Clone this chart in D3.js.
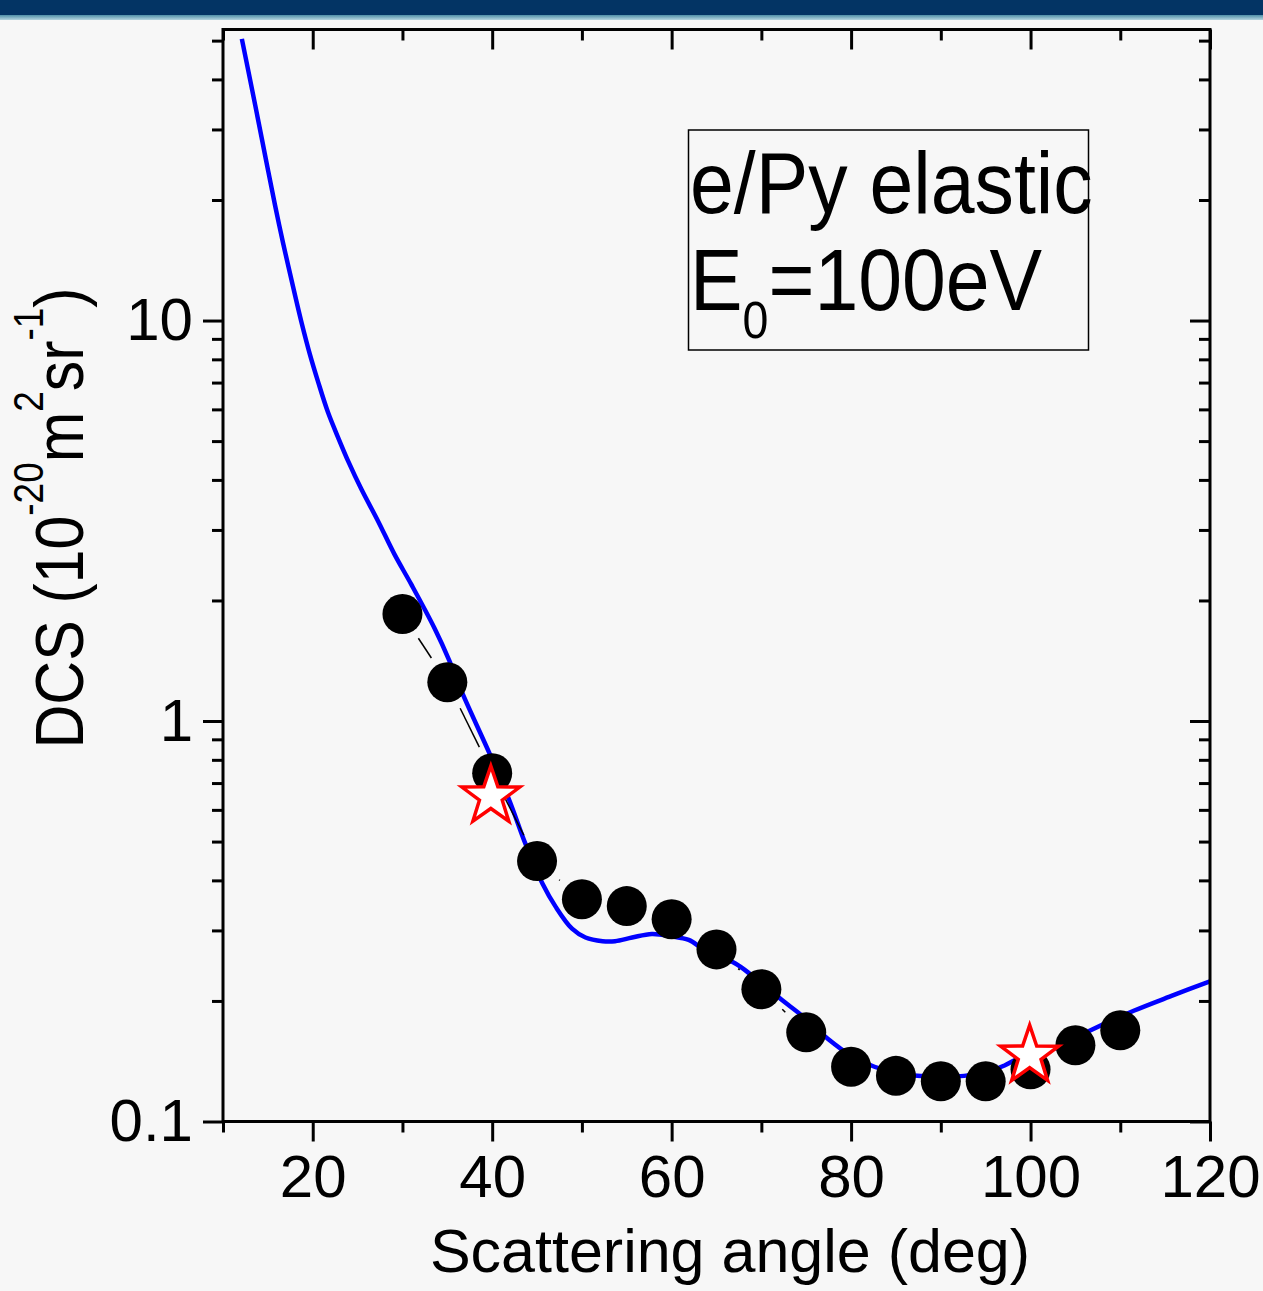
<!DOCTYPE html>
<html>
<head>
<meta charset="utf-8">
<script src="https://cdn.jsdelivr.net/npm/d3@7"></script>
<style>
html,body{margin:0;padding:0;background:#f7f7f7;}
svg{display:block;}
text{font-family:"Liberation Sans",Arial,sans-serif;fill:#000;}
</style>
</head>
<body>
<svg id="chart" width="1263" height="1291"></svg>
<script>
// ---- data ----
const theoryAngle = [12.1, 13.6, 14.7, 15.8, 16.7, 17.9, 18.8, 19.7, 20.6, 21.7, 22.9, 24.0, 25.4, 27.3, 29.1, 31.0, 33.6, 35.2, 36.7, 39.7, 41.9, 43.7, 45.6, 47.1, 48.9, 50.4, 52.3, 53.7, 55.6, 57.8, 60.0, 61.9, 63.7, 67.1, 68.9, 72.3, 74.5, 77.4, 80.0, 82.6, 85.2, 87.4, 90.0, 92.6, 95.6, 97.1, 99.3, 103.0, 106.7, 111.5, 116.0, 120.0];
const theoryDCS = [50.5, 34.4, 25.8, 19.4, 15.6, 11.9, 9.79, 8.21, 7.03, 5.90, 5.06, 4.43, 3.80, 3.15, 2.61, 2.19, 1.70, 1.42, 1.17, 0.830, 0.635, 0.494, 0.393, 0.343, 0.303, 0.288, 0.282, 0.282, 0.288, 0.294, 0.290, 0.284, 0.268, 0.248, 0.232, 0.201, 0.184, 0.161, 0.146, 0.137, 0.132, 0.130, 0.130, 0.130, 0.134, 0.138, 0.146, 0.153, 0.169, 0.189, 0.207, 0.224];

const exptAngle = [30, 35, 40, 45, 50, 55, 60, 65, 70, 75, 80, 85, 90, 95, 100, 105, 110];
const exptDCS = [1.85, 1.25, 0.741, 0.447, 0.359, 0.345, 0.320, 0.269, 0.214, 0.167, 0.137, 0.130, 0.126, 0.126, 0.135, 0.155, 0.169];

const starAngle = [39.85, 99.9];
const starDCS = [0.648, 0.146];

const xMajorTicks = [20, 40, 60, 80, 100, 120];
const xMinorTicks = [10, 30, 50, 70, 90, 110];
const yMajorTicks = [0.1, 1, 10];
const yMinorTicks = [0.2,0.3,0.4,0.5,0.6,0.7,0.8,0.9,2,3,4,5,6,7,8,9,20,30,40,50];

// ---- layout ----
const W = 1263, H = 1291;
const L = 223, R = 1210, T = 29.5, B = 1121.5;
const svg = d3.select("#chart");

svg.append("rect").attr("width", W).attr("height", H).attr("fill", "#f7f7f7");
// header band
const defs = svg.append("defs");
const grad = defs.append("linearGradient").attr("id", "hg").attr("x1", 0).attr("x2", 0).attr("y1", 0).attr("y2", 1);
grad.append("stop").attr("offset", "0").attr("stop-color", "#4f8fa8");
grad.append("stop").attr("offset", "1").attr("stop-color", "#b5d6e0");
svg.append("rect").attr("x", 0).attr("y", 0).attr("width", W).attr("height", 15).attr("fill", "#033464");
svg.append("rect").attr("x", 0).attr("y", 15).attr("width", W).attr("height", 5).attr("fill", "url(#hg)");

const x = d3.scaleLinear().domain([10, 120]).range([L, R]);
const y = d3.scaleLog().domain([0.1, 53.3]).range([B, T]);

// ---- theory curve ----
const theory = theoryAngle.map((a, i) => [a, theoryDCS[i]]);
const clip = defs.append("clipPath").attr("id", "pc");
clip.append("rect").attr("x", L).attr("y", T).attr("width", R - L).attr("height", B - T);

svg.append("path")
  .datum(theory)
  .attr("clip-path", "url(#pc)")
  .attr("fill", "none")
  .attr("stroke", "#0000ff")
  .attr("stroke-width", 4.5)
  .attr("stroke-linejoin", "round")
  .attr("d", d3.line().x(d => x(d[0])).y(d => y(d[1])).curve(d3.curveCatmullRom.alpha(0.5)));

// ---- thin connecting line with gaps at symbols ----
const expt = exptAngle.map((a, i) => [a, exptDCS[i]]);
const gap = 29;
for (let i = 0; i < expt.length - 1; i++) {
  const x1 = x(expt[i][0]), y1 = y(expt[i][1]);
  const x2 = x(expt[i + 1][0]), y2 = y(expt[i + 1][1]);
  const len = Math.hypot(x2 - x1, y2 - y1);
  if (len <= 2 * gap) continue;
  const ux = (x2 - x1) / len, uy = (y2 - y1) / len;
  svg.append("line")
    .attr("x1", x1 + ux * gap).attr("y1", y1 + uy * gap)
    .attr("x2", x2 - ux * gap).attr("y2", y2 - uy * gap)
    .attr("stroke", "#000").attr("stroke-width", 1.5);
}

// ---- experimental circles ----
svg.append("g").selectAll("circle").data(expt).join("circle")
  .attr("cx", d => x(d[0])).attr("cy", d => y(d[1])).attr("r", 20)
  .attr("fill", "#000");

// ---- stars ----
function starPath(R0, r0) {
  const pts = [];
  for (let k = 0; k < 10; k++) {
    const ang = -Math.PI / 2 + k * Math.PI / 5;
    const rr = k % 2 === 0 ? R0 : r0;
    pts.push([rr * Math.cos(ang), rr * Math.sin(ang)]);
  }
  return "M" + pts.map(p => p[0].toFixed(2) + "," + p[1].toFixed(2)).join("L") + "Z";
}
const stars = starAngle.map((a, i) => [a, starDCS[i]]);
svg.append("g").selectAll("path").data(stars).join("path")
  .attr("transform", d => `translate(${x(d[0])},${y(d[1])})`)
  .attr("d", starPath(30.5, 12))
  .attr("fill", "#fff").attr("stroke", "#ff0000").attr("stroke-width", 3.5)
  .attr("stroke-linejoin", "miter");

// ---- frame ----
svg.append("rect").attr("x", L).attr("y", T).attr("width", R - L).attr("height", B - T)
  .attr("fill", "none").attr("stroke", "#000").attr("stroke-width", 3);

// ---- axes ----
function styleAxis(g) {
  g.select(".domain").remove();
  g.selectAll(".tick line").attr("stroke", "#000").attr("stroke-width", 3);
  g.selectAll(".tick text").attr("font-size", 60).attr("font-family", '"Liberation Sans",Arial,sans-serif').attr("fill", "#000");
}
svg.append("g").attr("transform", `translate(0,${B})`)
  .call(d3.axisBottom(x).tickValues(xMajorTicks).tickSize(20).tickPadding(13).tickFormat(d3.format("d")))
  .call(styleAxis);
svg.append("g").attr("transform", `translate(0,${B})`)
  .call(d3.axisBottom(x).tickValues(xMinorTicks).tickSize(11).tickFormat(""))
  .call(styleAxis);
svg.append("g").attr("transform", `translate(0,${T})`)
  .call(d3.axisTop(x).tickValues(xMajorTicks).tickSize(-20).tickFormat(""))
  .call(styleAxis);
svg.append("g").attr("transform", `translate(0,${T})`)
  .call(d3.axisTop(x).tickValues(xMinorTicks).tickSize(-11).tickFormat(""))
  .call(styleAxis);

svg.append("g").attr("transform", `translate(${L},0)`)
  .call(d3.axisLeft(y).tickValues(yMajorTicks).tickSize(20).tickPadding(10).tickFormat(d => d < 1 ? "0.1" : d3.format("d")(d)))
  .call(styleAxis);
svg.append("g").attr("transform", `translate(${L},0)`)
  .call(d3.axisLeft(y).tickValues(yMinorTicks).tickSize(11).tickFormat(""))
  .call(styleAxis);
svg.append("g").attr("transform", `translate(${R},0)`)
  .call(d3.axisRight(y).tickValues(yMajorTicks).tickSize(-20).tickFormat(""))
  .call(styleAxis);
svg.append("g").attr("transform", `translate(${R},0)`)
  .call(d3.axisRight(y).tickValues(yMinorTicks).tickSize(-11).tickFormat(""))
  .call(styleAxis);

// ---- axis titles ----
svg.append("text").attr("x", 730).attr("y", 1272).attr("text-anchor", "middle")
  .attr("font-size", 61).text("Scattering angle (deg)");

const yt = svg.append("g").attr("transform", "translate(83,518) rotate(-90) scale(0.88,1)")
  .append("text").attr("text-anchor", "middle").attr("font-size", 69);
yt.append("tspan").text("DCS (10");
yt.append("tspan").attr("font-size", 42).attr("dy", -40).text("-20");
yt.append("tspan").attr("dy", 40).text("m");
yt.append("tspan").attr("font-size", 42).attr("dy", -40).text("2");
yt.append("tspan").attr("dy", 40).text("sr");
yt.append("tspan").attr("font-size", 42).attr("dy", -40).text("-1");
yt.append("tspan").attr("dy", 40).text(")");

// ---- annotation box ----
svg.append("rect").attr("x", 688.5).attr("y", 130).attr("width", 400).attr("height", 220)
  .attr("fill", "none").attr("stroke", "#000").attr("stroke-width", 1.5);
svg.append("g").attr("transform", "translate(690,213) scale(0.895,1)")
  .append("text").attr("font-size", 88).text("e/Py elastic");
const a2 = svg.append("g").attr("transform", "translate(690,310) scale(0.895,1)")
  .append("text").attr("font-size", 88);
a2.append("tspan").text("E");
a2.append("tspan").attr("font-size", 52).attr("dy", 28).text("0");
a2.append("tspan").attr("dy", -28).text("=100eV");
</script>
</body>
</html>
